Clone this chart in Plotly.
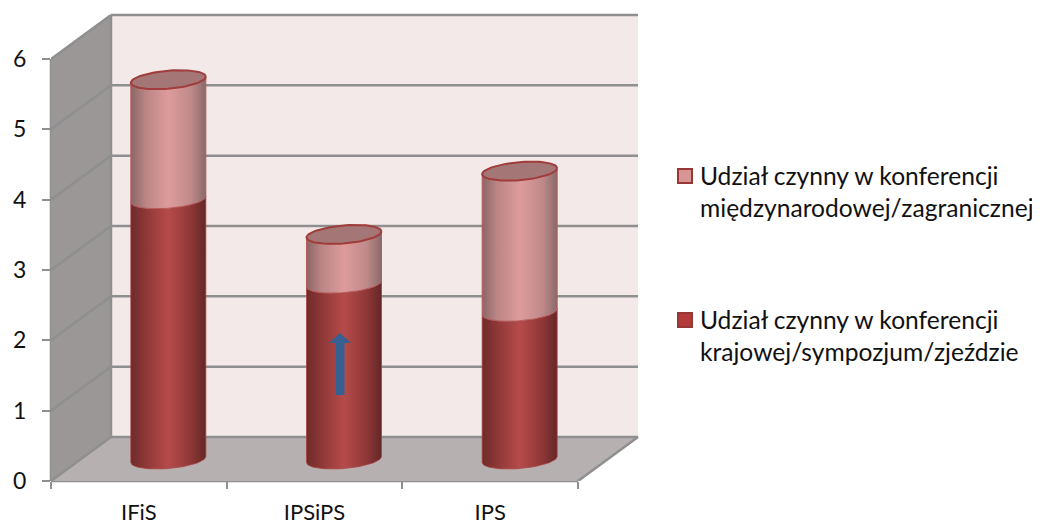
import numpy as np
import plotly.graph_objects as go

categories = ["IFiS", "IPSiPS", "IPS"]
krajowe = [3.7, 2.5, 2.1]
miedzynarodowe = [1.7, 0.7, 2.0]
y_ticks = [0, 1, 2, 3, 4, 5, 6]
name_krajowe = "Udział czynny w konferencji<br>krajowej/sympozjum/zjeździe"
name_miedzy = "Udział czynny w konferencji<br>międzynarodowej/zagranicznej"

# page pixel frame (the page puts the figure 8px in from the top-left corner)
PAGE = 8
W, H = 1032, 517
L, R, T, B = 51, 660, 8, 481
PX_X = 527 / 3
PX_Y = 422 / 6
DX, DY = 60 / PX_X, 44 / PX_Y          # full depth of the 3D box in axis units
CX, CY = 29.5 / PX_X, 21.5 / PX_Y      # bars sit half way in
A, Bm, S = 37.5 / PX_X, 9 / PX_Y, 3 / PX_Y

GRID = "#8f8f8f"
FONT = "Lato"
TXT = "#111111"

def arc(cx, cy, t0, t1, n=40):
    t = np.linspace(t0, t1, n)
    return cx + A * np.cos(t), cy + S * np.cos(t) + Bm * np.sin(t)

def segment(cx, y0, y1):
    xa, ya = arc(cx, y0, np.pi, 2 * np.pi)
    xb, yb = arc(cx, y1, 2 * np.pi, np.pi)
    return np.r_[xa, xb, xa[0]], np.r_[ya, yb, ya[0]]

def line(x0, y0, x1, y1):
    return dict(type="line", xref="x", yref="y", x0=x0, y0=y0, x1=x1, y1=y1,
                line=dict(color=GRID, width=2.5), layer="below")

def poly(pts, color, layer="below"):
    path = "M" + " L".join(f"{a},{b}" for a, b in pts) + " Z"
    return dict(type="path", xref="x", yref="y", path=path, fillcolor=color,
                line=dict(width=0), layer=layer)

def paper_x(p): return (p - L) / (R - L)
def paper_y(p): return (B - p) / (B - T)

shapes = [
    poly([(DX, DY), (3 + DX, DY), (3 + DX, 6 + DY), (DX, 6 + DY)], "#f4e9e9"),
    poly([(0, 0), (DX, DY), (DX, 6 + DY), (0, 6)], "#9a9796"),
    poly([(0, 0), (DX, DY), (3 + DX, DY), (3, 0)], "#b7b0b0"),
]
for v in y_ticks:
    shapes.append(line(0, v, DX, v + DY))
    shapes.append(line(DX, v + DY, 3 + DX, v + DY))
shapes.append(line(3, 0, 3 + DX, DY))
shapes.append(line(DX, DY, DX, 6 + DY))

xrange_ = [0, (R - L) / PX_X]
yrange_ = [0, (B - T) / PX_Y]
# axis lines in paper units so they are not clipped at the plot edge
shapes.append(dict(type="line", xref="paper", yref="paper", x0=0, x1=3 / xrange_[1], y0=0, y1=0,
                   line=dict(color=GRID, width=2.5), layer="below"))
shapes.append(dict(type="line", xref="paper", yref="paper", x0=0, x1=0, y0=0, y1=6 / yrange_[1],
                   line=dict(color=GRID, width=2.5), layer="below"))

LOW = [[0, "#6d2b2b"], [0.2, "#8f3737"], [0.5, "#b54b4a"], [0.8, "#8f3737"], [1, "#642727"]]
UP = [[0, "#8a6666"], [0.2, "#bb8585"], [0.5, "#de9b9b"], [0.8, "#c08a8a"], [1, "#8a6a6a"]]

fig = go.Figure()
for i, (a, b) in enumerate(zip(krajowe, miedzynarodowe)):
    cx = i + 0.5 + CX
    x, y = segment(cx, CY, CY + a)
    fig.add_trace(go.Scatter(x=x, y=y, mode="lines", fill="toself", showlegend=False,
                             line=dict(color="#a83f3f", width=0.8),
                             fillgradient=dict(type="horizontal", colorscale=LOW)))
    x, y = segment(cx, CY + a, CY + a + b)
    fig.add_trace(go.Scatter(x=x, y=y, mode="lines", fill="toself", showlegend=False,
                             line=dict(color="#b85c5c", width=1),
                             fillgradient=dict(type="horizontal", colorscale=UP)))
    x, y = arc(cx, CY + a + b, 0, 2 * np.pi, 80)
    fig.add_trace(go.Scatter(x=x, y=y, mode="lines", fill="toself", showlegend=False,
                             fillcolor="#a57676", line=dict(color="#a03c3c", width=2)))

# blue arrow on the middle bar
ax = 1.5 + CX - 4 / PX_X
def bx(p): return ax + p / PX_X
def by(p): return (B - p) / PX_Y
shapes.append(poly([(bx(-4.5), by(395)), (bx(4.5), by(395)), (bx(4.5), by(343)), (bx(11), by(343)),
                    (bx(0), by(333)), (bx(-11), by(343)), (bx(-4.5), by(343))], "#376092", "above"))

# legend: swatch + two-line label
annotations = []
for name, colour, sw_y, txt_y in [(name_miedzy, "#d99594", 176, 191.5), (name_krajowe, "#b23c3a", 320, 335.5)]:
    shapes.append(dict(type="rect", xref="paper", yref="paper",
                       x0=paper_x(678), x1=paper_x(692), y0=paper_y(sw_y - 7), y1=paper_y(sw_y + 7),
                       fillcolor=colour, line=dict(color="#953735", width=2)))
    annotations.append(dict(xref="paper", yref="paper", x=paper_x(698), y=paper_y(txt_y),
                            xanchor="left", yanchor="middle", align="left", showarrow=False,
                            text=name, font=dict(family=FONT, size=24.6, color=TXT)))

fig.update_layout(
    width=W, height=H, autosize=False,
    margin=dict(l=L - PAGE, r=W - (R - PAGE), t=T - PAGE, b=H - (B - PAGE), pad=0, autoexpand=False),
    paper_bgcolor="white", plot_bgcolor="white",
    hovermode=False, shapes=shapes, annotations=annotations, showlegend=False,
    font=dict(family=FONT, size=22, color=TXT),
    xaxis=dict(range=xrange_, tickmode="array", tickvals=[0.5, 1.5, 2.5], ticktext=categories,
               ticks="", showgrid=False, zeroline=False, showline=False, ticklabelstandoff=16,
               tickfont=dict(size=22), automargin=False,
               minor=dict(tickmode="array", tickvals=[0, 1, 2, 3], ticks="outside", ticklen=7,
                          tickwidth=2, tickcolor=GRID, showgrid=False)),
    yaxis=dict(range=yrange_, tickmode="array", tickvals=y_ticks, ticks="outside", ticklen=8,
               tickwidth=2, tickcolor=GRID, showgrid=False, zeroline=False, showline=False,
               ticklabelstandoff=11, tickfont=dict(size=23), automargin=False),
)
fig.write_html("out.html")
